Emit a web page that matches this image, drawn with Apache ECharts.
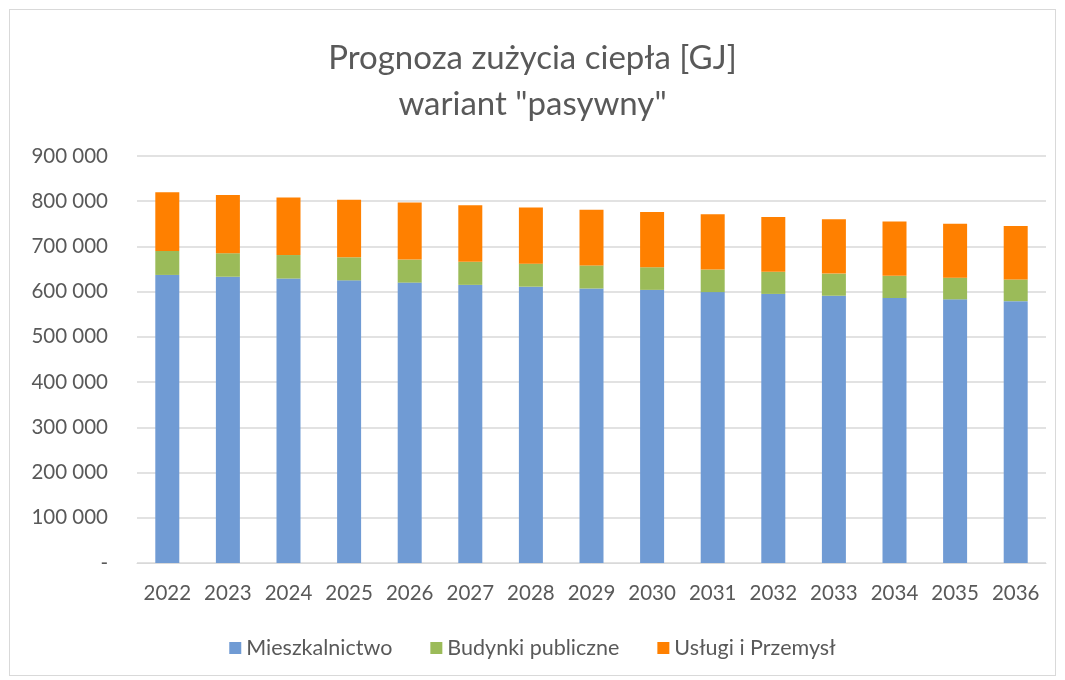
<!DOCTYPE html>
<html>
    <head>
        <meta charset="utf-8">
        <style>
            body { margin: 0; background: #fff; }
            #frame { position: absolute; left: 9px; top: 9px; width: 1045px; height: 665px; border: 1px solid #d9d9d9; }
            #main { position: absolute; left: 0; top: 0; width: 1065px; height: 680px; }
        </style>
    </head>
    <body>
        <div id="frame"></div>
        <div id="main"></div>

        <script type="text/javascript" src="https://cdn.jsdelivr.net/npm/echarts@6/dist/echarts.min.js"></script>
        <script type="text/javascript">

            // dane [GJ]
            const years = ['2022','2023','2024','2025','2026','2027','2028','2029','2030','2031','2032','2033','2034','2035','2036'];
            const mieszkalnictwo = [637000, 633000, 629000, 625000, 620000, 615000, 611000, 607000, 604000, 599000, 595000, 591000, 586000, 583000, 579000];
            const budynkiPubliczne = [53000, 52000, 52000, 51000, 51000, 51000, 51000, 51000, 50000, 50000, 49000, 49000, 49000, 48000, 48000];
            const uslugiPrzemysl = [130000, 129000, 127000, 127000, 126000, 125000, 124000, 123000, 122000, 122000, 121000, 120000, 120000, 119000, 118000];

            const font = 'Lato';
            const textColor = '#595959';

            var chartDom = document.getElementById('main');
            var myChart = echarts.init(chartDom);

            function fmt(v) {
                if (v === 0) return '-';
                return String(v).replace(/\B(?=(\d{3})+(?!\d))/g, ' ');
            }

            function bar(name, data, color) {
                return {
                    name: name,
                    type: 'bar',
                    stack: 'total',
                    data: data,
                    barWidth: 24,
                    itemStyle: { color: color },
                    emphasis: { disabled: true }
                };
            }

            var option = {
                animation: false,
                textStyle: { fontFamily: font },
                title: {
                    text: 'Prognoza zużycia ciepła [GJ]\nwariant "pasywny"',
                    left: 'center',
                    top: 30,
                    textStyle: { fontFamily: font, fontSize: 33, fontWeight: 'normal', color: textColor, lineHeight: 46 }
                },
                legend: {
                    bottom: 16,
                    left: 'center',
                    itemWidth: 12,
                    itemHeight: 12,
                    itemGap: 38,
                    icon: 'rect',
                    textStyle: { fontFamily: font, fontSize: 21.5, color: textColor }
                },
                grid: { left: 137, right: 19, top: 156, bottom: 117 },
                xAxis: {
                    type: 'category',
                    data: years,
                    axisTick: { show: false },
                    axisLine: { lineStyle: { color: '#d9d9d9', width: 1 } },
                    axisLabel: { fontFamily: font, fontSize: 20.5, color: textColor, margin: 20, interval: 0 }
                },
                yAxis: {
                    type: 'value',
                    min: 0,
                    max: 900000,
                    interval: 100000,
                    axisLine: { show: false },
                    axisTick: { show: false },
                    splitLine: { lineStyle: { color: '#d9d9d9', width: 1.5 } },
                    axisLabel: { fontFamily: font, fontSize: 20.5, color: textColor, margin: 29, formatter: fmt }
                },
                series: [
                    bar('Mieszkalnictwo', mieszkalnictwo, '#709bd4'),
                    bar('Budynki publiczne', budynkiPubliczne, '#9bbb59'),
                    bar('Usługi i Przemysł', uslugiPrzemysl, '#ff8000')
                ]
            };

            myChart.setOption(option);
        </script>
    </body>
</html>
